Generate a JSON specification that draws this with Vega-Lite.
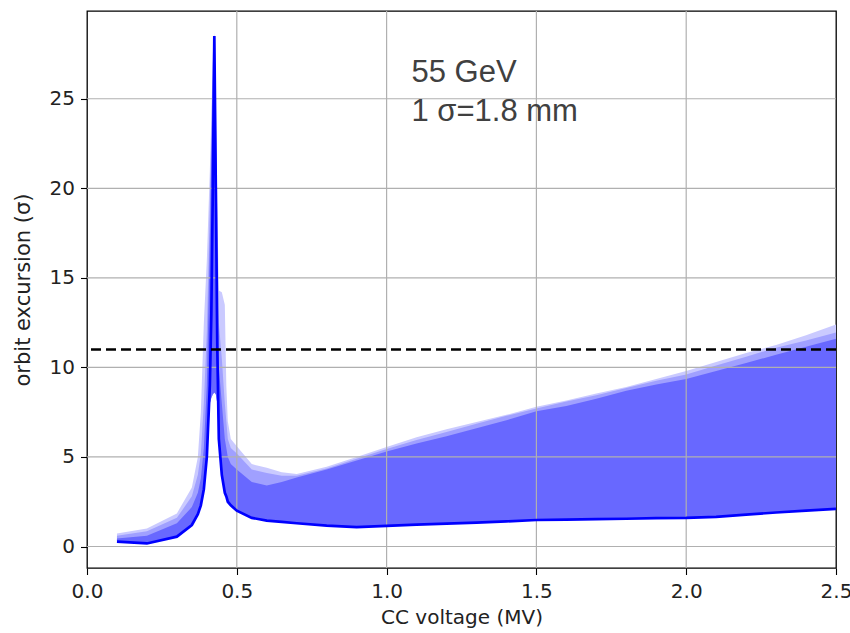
{
  "$schema": "https://vega.github.io/schema/vega-lite/v6.json",
  "width": 749,
  "height": 557,
  "autosize": {"type": "none"},
  "padding": {"left": 87, "top": 11, "right": 14, "bottom": 65},
  "background": "white",
  "config": {
    "view": {"stroke": "black", "strokeWidth": 1.3},
    "axis": {
      "grid": false,
      "domain": false,
      "tickColor": "black",
      "tickSize": 6.5,
      "tickWidth": 1.1,
      "labelFont": "DejaVu Sans",
      "labelFontSize": 20,
      "labelColor": "#222222",
      "labelFlush": false,
      "titleFont": "DejaVu Sans",
      "titleFontSize": 21,
      "titleFontWeight": "normal",
      "titleColor": "#222222"
    }
  },
  "datasets": {
    "band": [
      {"x": 0.10, "lo": 0.27, "fl": 0.27, "d": 0.45, "m": 0.6, "l": 0.72},
      {"x": 0.20, "lo": 0.17, "fl": 0.17, "d": 0.6, "m": 0.85, "l": 1.0},
      {"x": 0.30, "lo": 0.55, "fl": 0.55, "d": 1.3, "m": 1.6, "l": 1.85},
      {"x": 0.35, "lo": 1.2, "fl": 1.2, "d": 2.2, "m": 2.8, "l": 3.3},
      {"x": 0.37, "lo": 1.8, "fl": 1.8, "d": 3.0, "m": 4.0, "l": 5.0},
      {"x": 0.38, "lo": 2.3, "fl": 2.3, "d": 3.8, "m": 5.2, "l": 7.5},
      {"x": 0.39, "lo": 3.2, "fl": 3.2, "d": 5.5, "m": 8.0, "l": 12.5},
      {"x": 0.40, "lo": 5.0, "fl": 5.0, "d": 9.0, "m": 12.0, "l": 16.0},
      {"x": 0.41, "lo": 9.0, "fl": 8.0, "d": 17.0, "m": 19.0, "l": 21.0},
      {"x": 0.415, "lo": 13.0, "fl": 8.3, "d": 22.0, "m": 23.0, "l": 24.0},
      {"x": 0.42, "lo": 20.0, "fl": 8.5, "d": 26.0, "m": 27.0, "l": 27.5},
      {"x": 0.425, "lo": 28.5, "fl": 8.6, "d": 28.5, "m": 28.6, "l": 28.7},
      {"x": 0.43, "lo": 20.0, "fl": 8.5, "d": 23.0, "m": 24.0, "l": 25.0},
      {"x": 0.435, "lo": 11.0, "fl": 8.0, "d": 16.0, "m": 18.0, "l": 19.0},
      {"x": 0.44, "lo": 6.0, "fl": 6.0, "d": 10.0, "m": 12.5, "l": 14.3},
      {"x": 0.45, "lo": 4.0, "fl": 4.0, "d": 8.0, "m": 10.5, "l": 14.2},
      {"x": 0.46, "lo": 3.0, "fl": 3.0, "d": 6.0, "m": 8.0, "l": 13.5},
      {"x": 0.465, "lo": 2.8, "fl": 2.8, "d": 5.5, "m": 7.0, "l": 9.0},
      {"x": 0.47, "lo": 2.5, "fl": 2.5, "d": 5.0, "m": 6.0, "l": 7.0},
      {"x": 0.48, "lo": 2.3, "fl": 2.3, "d": 4.6, "m": 5.5, "l": 6.0},
      {"x": 0.50, "lo": 2.0, "fl": 2.0, "d": 4.3, "m": 5.2, "l": 5.6},
      {"x": 0.55, "lo": 1.6, "fl": 1.6, "d": 3.6, "m": 4.3, "l": 4.6},
      {"x": 0.60, "lo": 1.45, "fl": 1.45, "d": 3.4, "m": 4.1, "l": 4.4},
      {"x": 0.65, "lo": 1.38, "fl": 1.38, "d": 3.6, "m": 3.95, "l": 4.15},
      {"x": 0.70, "lo": 1.3, "fl": 1.3, "d": 3.85, "m": 3.95, "l": 4.05},
      {"x": 0.80, "lo": 1.17, "fl": 1.17, "d": 4.3, "m": 4.35, "l": 4.45},
      {"x": 0.90, "lo": 1.08, "fl": 1.08, "d": 4.8, "m": 4.9, "l": 5.0},
      {"x": 1.00, "lo": 1.15, "fl": 1.15, "d": 5.3, "m": 5.45, "l": 5.55},
      {"x": 1.10, "lo": 1.22, "fl": 1.22, "d": 5.75, "m": 5.95, "l": 6.1},
      {"x": 1.20, "lo": 1.28, "fl": 1.28, "d": 6.15, "m": 6.4, "l": 6.55},
      {"x": 1.30, "lo": 1.33, "fl": 1.33, "d": 6.6, "m": 6.85, "l": 6.95},
      {"x": 1.40, "lo": 1.4, "fl": 1.4, "d": 7.05, "m": 7.3, "l": 7.35},
      {"x": 1.50, "lo": 1.48, "fl": 1.48, "d": 7.55, "m": 7.7, "l": 7.8},
      {"x": 1.60, "lo": 1.5, "fl": 1.5, "d": 7.85, "m": 8.1, "l": 8.15},
      {"x": 1.70, "lo": 1.53, "fl": 1.53, "d": 8.25, "m": 8.45, "l": 8.55},
      {"x": 1.80, "lo": 1.55, "fl": 1.55, "d": 8.7, "m": 8.85, "l": 8.9},
      {"x": 1.90, "lo": 1.58, "fl": 1.58, "d": 9.05, "m": 9.25, "l": 9.35},
      {"x": 2.00, "lo": 1.6, "fl": 1.6, "d": 9.35, "m": 9.6, "l": 9.8},
      {"x": 2.10, "lo": 1.66, "fl": 1.66, "d": 9.8, "m": 10.1, "l": 10.3},
      {"x": 2.20, "lo": 1.78, "fl": 1.78, "d": 10.25, "m": 10.6, "l": 10.8},
      {"x": 2.30, "lo": 1.9, "fl": 1.9, "d": 10.7, "m": 11.1, "l": 11.25},
      {"x": 2.40, "lo": 2.0, "fl": 2.0, "d": 11.15, "m": 11.5, "l": 11.8},
      {"x": 2.50, "lo": 2.1, "fl": 2.1, "d": 11.6, "m": 11.95, "l": 12.4}
    ],
    "gx": [{"v": 0.5}, {"v": 1.0}, {"v": 1.5}, {"v": 2.0}],
    "gy": [{"v": 0}, {"v": 5}, {"v": 10}, {"v": 15}, {"v": 20}, {"v": 25}],
    "thr": [{"v": 11}],
    "notes": [
      {"x": 1.083, "y": 25.95, "t": "55 GeV"},
      {"x": 1.083, "y": 23.75, "t": "1 σ=1.8 mm"}
    ]
  },
  "layer": [
    {
      "data": {"name": "band"},
      "mark": {"type": "area", "color": "#cacaff", "clip": true},
      "encoding": {
        "x": {"field": "x", "type": "quantitative", "scale": {"domain": [0, 2.5], "nice": false, "zero": false},
              "axis": {"values": [0, 0.5, 1.0, 1.5, 2.0, 2.5], "format": ".1f", "title": "CC voltage (MV)", "labelPadding": 7, "titlePadding": 6, "titleFontSize": 20}},
        "y": {"field": "fl", "type": "quantitative", "scale": {"domain": [-1.2, 29.9], "nice": false, "zero": false},
              "axis": {"values": [0, 5, 10, 15, 20, 25], "title": "orbit excursion (σ)", "labelPadding": 6, "titlePadding": 16}},
        "y2": {"field": "l"}
      }
    },
    {
      "data": {"name": "band"},
      "mark": {"type": "area", "color": "#a0a0ff", "clip": true},
      "encoding": {
        "x": {"field": "x", "type": "quantitative"},
        "y": {"field": "fl", "type": "quantitative"},
        "y2": {"field": "m"}
      }
    },
    {
      "data": {"name": "band"},
      "mark": {"type": "area", "color": "#6868ff", "clip": true},
      "encoding": {
        "x": {"field": "x", "type": "quantitative"},
        "y": {"field": "fl", "type": "quantitative"},
        "y2": {"field": "d"}
      }
    },
    {
      "data": {"name": "gx"},
      "mark": {"type": "rule", "color": "#b0b0b0", "strokeWidth": 1.2},
      "encoding": {"x": {"field": "v", "type": "quantitative"}}
    },
    {
      "data": {"name": "gy"},
      "mark": {"type": "rule", "color": "#b0b0b0", "strokeWidth": 1.2},
      "encoding": {"y": {"field": "v", "type": "quantitative"}}
    },
    {
      "data": {"name": "band"},
      "mark": {"type": "line", "color": "#0000ff", "strokeWidth": 2.7, "clip": true},
      "encoding": {
        "x": {"field": "x", "type": "quantitative"},
        "y": {"field": "lo", "type": "quantitative"}
      }
    },
    {
      "data": {"name": "thr"},
      "mark": {"type": "rule", "color": "black", "strokeWidth": 2.7, "strokeDash": [10, 5]},
      "encoding": {"y": {"field": "v", "type": "quantitative"}}
    },
    {
      "data": {"name": "notes"},
      "mark": {"type": "text", "font": "Liberation Sans", "fontSize": 31, "color": "#404040", "align": "left", "baseline": "alphabetic"},
      "encoding": {
        "x": {"field": "x", "type": "quantitative"},
        "y": {"field": "y", "type": "quantitative"},
        "text": {"field": "t"}
      }
    }
  ]
}
